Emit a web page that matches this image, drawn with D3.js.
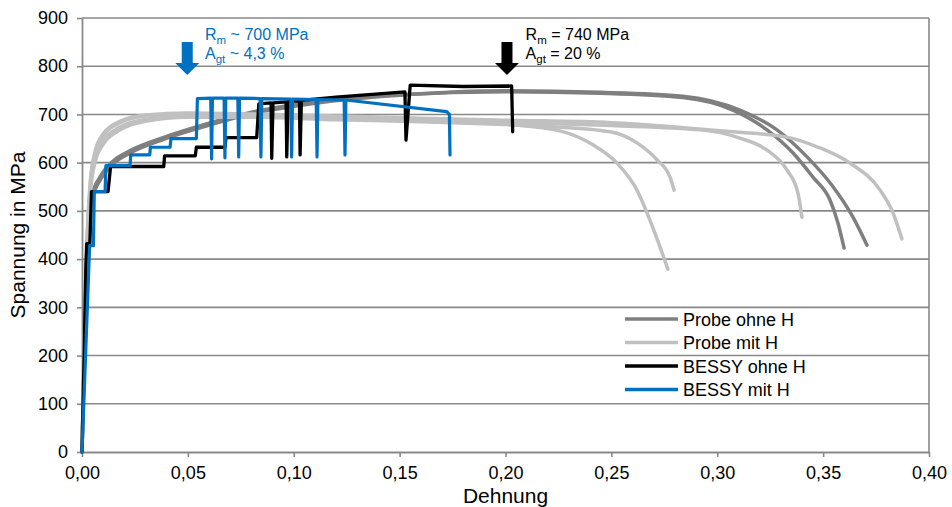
<!DOCTYPE html>
<html>
<head>
<meta charset="utf-8">
<script src="https://cdn.jsdelivr.net/npm/d3@7"></script>
<style>
  html, body { margin: 0; padding: 0; background: #fff; }
  svg { display: block; font-family: "Liberation Sans", Arial, sans-serif; }
</style>
</head>
<body>
<svg id="chart" width="952" height="507"></svg>
<script>
// ---------- data (strain, stress in MPa) ----------
const xTicks = [0, 0.05, 0.10, 0.15, 0.20, 0.25, 0.30, 0.35, 0.40];
const yTicks = [0, 100, 200, 300, 400, 500, 600, 700, 800, 900];

const seriesNames = ["Probe ohne H", "Probe mit H", "BESSY ohne H", "BESSY mit H"];

// Probe ohne H (two specimens)
const probeOhne1 = [[0,0],[0.0015,280],[0.003,460],[0.005,535],[0.0085,570],[0.0146,603],[0.0227,625],[0.0383,652],[0.0524,672],[0.084,708],[0.10,720],[0.125,733],[0.15,741],[0.20,747],[0.2446,744],[0.2838,735],[0.3074,709],[0.3235,668],[0.3358,620],[0.3452,570],[0.3532,523],[0.3570,475],[0.3599,423]];
const probeOhne2 = [[0,0],[0.0015,270],[0.003,450],[0.005,528],[0.0085,563],[0.0146,597],[0.0227,620],[0.0383,648],[0.0524,668],[0.084,705],[0.10,717],[0.125,731],[0.15,740],[0.20,749],[0.2446,746],[0.2838,738],[0.3107,709],[0.3282,668],[0.3424,612],[0.3547,550],[0.3641,487],[0.3707,429]];

// Probe mit H (four specimens)
const probeMit1 = [[0,0],[0.0015,300],[0.0025,450],[0.004,560],[0.006,615],[0.010,655],[0.018,683],[0.03,697],[0.05,702],[0.08,700],[0.12,695],[0.16,689],[0.20,680],[0.2257,666],[0.2413,637],[0.2527,599],[0.2621,543],[0.2682,481],[0.2730,425],[0.2767,379]];
const probeMit2 = [[0,0],[0.0015,290],[0.0025,430],[0.004,540],[0.006,598],[0.010,638],[0.018,668],[0.03,686],[0.05,694],[0.08,694],[0.12,689],[0.16,685],[0.20,679],[0.22,675],[0.2494,664],[0.2621,641],[0.2715,606],[0.2777,570],[0.2796,543]];
const probeMit3 = [[0,0],[0.0015,295],[0.0025,440],[0.004,550],[0.006,605],[0.010,645],[0.018,674],[0.03,690],[0.05,697],[0.08,697],[0.12,692],[0.16,688],[0.20,684],[0.25,677],[0.2919,668],[0.3107,651],[0.3235,626],[0.3329,585],[0.3381,537],[0.3400,487]];
const probeMit4 = [[0,0],[0.0015,305],[0.0025,455],[0.004,565],[0.006,620],[0.010,660],[0.018,686],[0.03,699],[0.05,703],[0.08,701],[0.12,697],[0.16,692],[0.20,688],[0.25,683],[0.3074,664],[0.3329,653],[0.3471,633],[0.3627,599],[0.3769,543],[0.3830,496],[0.3872,442]];

// BESSY ohne H
const bessyOhne = [[0,0],[0.0010,200],[0.0018,380],[0.0022,432],[0.0037,432],[0.0045,540],[0.0123,540],[0.0135,592],[0.0386,592],[0.0390,614],[0.0535,614],[0.0540,632],[0.0675,632],[0.0680,652],[0.0825,652],[0.0835,722],[0.0893,724],[0.0896,609],[0.0902,724],[0.0964,726],[0.0967,612],[0.0973,727],[0.1027,728],[0.1030,616],[0.1036,729],[0.12,736],[0.1525,747],[0.1530,647],[0.1550,761],[0.18,758],[0.2029,759],[0.2034,664]];

// BESSY mit H
const bessyMit = [[0,0],[0.0036,428],[0.0054,428],[0.0058,540],[0.0109,540],[0.0113,594],[0.0227,594],[0.0230,616],[0.0320,616],[0.0323,632],[0.0416,632],[0.0420,650],[0.0540,650],[0.0545,733],[0.0608,734],[0.0612,608],[0.0616,734],[0.0671,734],[0.0675,610],[0.0679,734],[0.0736,734],[0.0740,612],[0.0744,734],[0.0841,733],[0.0845,612],[0.0849,733],[0.0986,732],[0.0990,612],[0.0994,732],[0.1106,731],[0.1110,612],[0.1114,731],[0.1238,730],[0.1242,616],[0.1246,730],[0.1722,706],[0.1735,700],[0.1738,616]];

// annotations: arrow tip (strain, stress) and text
const annotBlue = { x: 0.0497, y: 782, tx: 0.0581, l1: ["R", "m", " ~ 700 MPa"], l2: ["A", "gt", " ~ 4,3 %"] };
const annotBlack = { x: 0.2007, y: 782, tx: 0.2095, l1: ["R", "m", " = 740 MPa"], l2: ["A", "gt", " = 20 %"] };

// ---------- drawing ----------
const svg = d3.select("#chart");
const M = { left: 82, right: 929, top: 18, bottom: 452 };
const x = d3.scaleLinear().domain([0, 0.40]).range([M.left, M.right]);
const y = d3.scaleLinear().domain([0, 900]).range([M.bottom, M.top]);

const gridColor = "#898989";
const fmtX = v => d3.format(".2f")(v).replace(".", ",");

// gridlines
svg.append("g").selectAll("line").data(yTicks.filter(d => d > 0)).join("line")
  .attr("x1", M.left).attr("x2", M.right)
  .attr("y1", d => y(d)).attr("y2", d => y(d))
  .attr("stroke", gridColor).attr("stroke-width", 1.6);

// right border
svg.append("line").attr("x1", M.right).attr("x2", M.right).attr("y1", M.top).attr("y2", M.bottom)
  .attr("stroke", gridColor).attr("stroke-width", 1.6);

// axes
const yAxis = svg.append("g").attr("transform", `translate(${M.left},0)`)
  .call(d3.axisLeft(y).tickValues(yTicks).tickSize(5).tickPadding(9).tickSizeOuter(0));
const xAxis = svg.append("g").attr("transform", `translate(0,${M.bottom})`)
  .call(d3.axisBottom(x).tickValues(xTicks).tickFormat(fmtX).tickSize(5).tickPadding(9).tickSizeOuter(0));
[yAxis, xAxis].forEach(g => {
  g.select(".domain").attr("stroke", gridColor).attr("stroke-width", 1.8);
  g.selectAll(".tick line").attr("stroke", gridColor).attr("stroke-width", 1.6);
  g.selectAll(".tick text").attr("fill", "#000").style("font-size", "18px")
    .style("font-family", "Liberation Sans, Arial, sans-serif");
});

// axis titles
svg.append("text").attr("x", (M.left + M.right) / 2).attr("y", 503).attr("text-anchor", "middle")
  .style("font-size", "21px").text("Dehnung");
svg.append("text").attr("transform", `translate(25,${(M.top + M.bottom) / 2}) rotate(-90)`)
  .attr("text-anchor", "middle").style("font-size", "21px").text("Spannung in MPa");

// curves
const line = d3.line().x(d => x(d[0])).y(d => y(d[1]));
const smooth = d3.line().x(d => x(d[0])).y(d => y(d[1])).curve(d3.curveMonotoneX);

const colors = { probeOhne: "#7f7f7f", probeMit: "#c0c0c0", bessyOhne: "#000000", bessyMit: "#0070c0" };

const curves = svg.append("g").attr("fill", "none").attr("stroke-linejoin", "round").attr("stroke-linecap", "round");
[probeOhne1, probeOhne2].forEach(s => curves.append("path").attr("d", smooth(s)).attr("stroke", colors.probeOhne).attr("stroke-width", 3.5));
[probeMit1, probeMit2, probeMit3, probeMit4].forEach(s => curves.append("path").attr("d", smooth(s)).attr("stroke", colors.probeMit).attr("stroke-width", 3.5));
curves.append("path").attr("d", line(bessyOhne)).attr("stroke", colors.bessyOhne).attr("stroke-width", 3.3);
curves.append("path").attr("d", line(bessyMit)).attr("stroke", colors.bessyMit).attr("stroke-width", 3.2);

// legend
const legendColors = [colors.probeOhne, colors.probeMit, colors.bessyOhne, colors.bessyMit];
const lg = svg.append("g");
seriesNames.forEach((n, i) => {
  const yy = 319 + i * 23.5;
  lg.append("line").attr("x1", 625).attr("x2", 678).attr("y1", yy).attr("y2", yy)
    .attr("stroke", legendColors[i]).attr("stroke-width", 3.5);
  lg.append("text").attr("x", 683).attr("y", yy + 6.5).style("font-size", "18px").text(n);
});

// annotations
function annotate(a, color) {
  const tx = x(a.x), ty = y(a.y);
  const path = `M${tx},${ty} L${tx - 12},${ty - 12} L${tx - 5.5},${ty - 12} L${tx - 5.5},${ty - 33} L${tx + 5.5},${ty - 33} L${tx + 5.5},${ty - 12} L${tx + 12},${ty - 12} Z`;
  svg.append("path").attr("d", path).attr("fill", color);
  [a.l1, a.l2].forEach((parts, i) => {
    const t = svg.append("text").attr("x", x(a.tx)).attr("y", 40 + i * 18.5)
      .attr("fill", color).style("font-size", "16px");
    t.append("tspan").text(parts[0]);
    t.append("tspan").attr("dy", 4).style("font-size", "11.5px").text(parts[1]);
    t.append("tspan").attr("dy", -4).text(parts[2]);
  });
}
annotate(annotBlue, colors.bessyMit);
annotate(annotBlack, "#000");
</script>
</body>
</html>
